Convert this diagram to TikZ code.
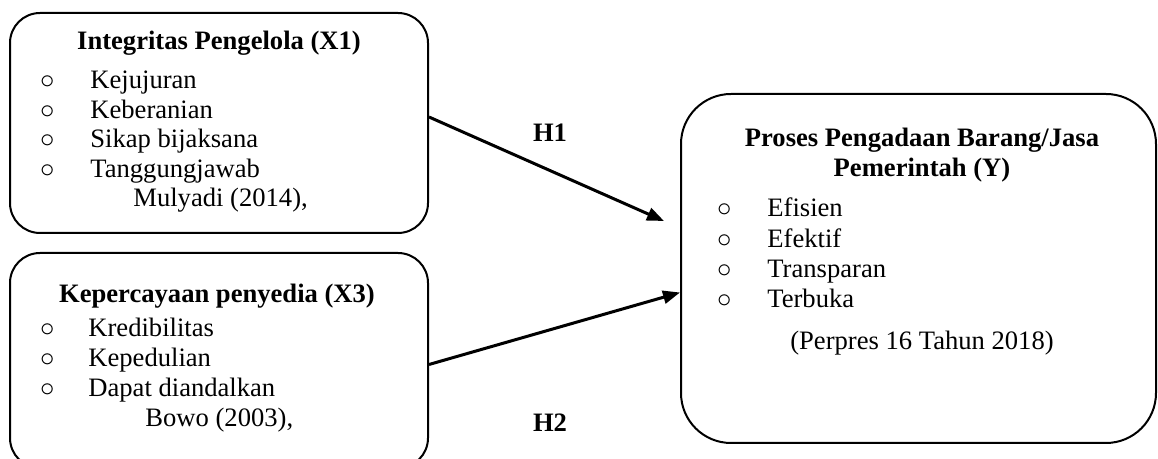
\documentclass[tikz,border=0pt]{standalone}
\usepackage{fontspec}
\setmainfont{Liberation Serif}
\usetikzlibrary{arrows.meta}

\tikzset{
  box/.style={draw, line width=1pt, rounded corners=15pt, inner sep=0pt},
  ttl/.style={anchor=base, inner sep=0pt, font=\fontsize{13.3}{14.75}\selectfont\bfseries},
  item/.style={anchor=base west, inner sep=0pt, font=\fontsize{13.3}{14.75}\selectfont},
  bul/.style={anchor=base, inner sep=0pt, font=\fontsize{13.3}{14.75}\selectfont},
  conn/.style={line width=1.5pt, -{Triangle[length=8.5pt,width=6.5pt]}},
}

\begin{document}
\begin{tikzpicture}[x=0.5pt,y=-0.5pt]
  \useasboundingbox (0,0) rectangle (1158,459);
  \clip (0,0) rectangle (1158,459);

  % kotak variabel
  \node[box, minimum width=209pt, minimum height=110pt] (x1) at (219,123) {};
  \node[box, minimum width=209pt, minimum height=107.5pt] (x3) at (219,360.5) {};
  \node[box, rounded corners=25pt, minimum width=237.5pt, minimum height=174.5pt] (y) at (918.5,268.5) {};

  % integritas pengelola
  \node[ttl] (x1t) at (219,50) {Integritas Pengelola (X1)};
  \foreach \txt [count=\i] in {Kejujuran, Keberanian, Sikap bijaksana, Tanggungjawab}
  {
    \node[bul] (x1b\i) at (48,{59.5+29.5*\i}) {$\circ$};
    \node[item] (x1i\i) at (90,{59.5+29.5*\i}) {\txt};
  }
  \node[item] (x1s) at (133,207) {Mulyadi (2014),};

  % kepercayaan penyedia
  \node[ttl] (x3t) at (217,303) {Kepercayaan penyedia (X3)};
  \foreach \txt [count=\i] in {Kredibilitas, Kepedulian, Dapat diandalkan}
  {
    \node[bul] (x3b\i) at (48,{307+30*\i}) {$\circ$};
    \node[item] (x3i\i) at (88,{307+30*\i}) {\txt};
  }
  \node[item] (x3s) at (145,427) {Bowo (2003),};

  % proses pengadaan
  \node[ttl] (yt1) at (922,147) {Proses Pengadaan Barang/Jasa};
  \node[ttl] (yt2) at (922,177) {Pemerintah (Y)};
  \foreach \txt [count=\i] in {Efisien, Efektif, Transparan, Terbuka}
  {
    \node[bul] (yb\i) at (725,{186.5+30.3*\i}) {$\circ$};
    \node[item] (yi\i) at (767,{186.5+30.3*\i}) {\txt};
  }
  \node[anchor=base, inner sep=0pt, font=\fontsize{13.3}{14.75}\selectfont] (ys) at (922,350) {(Perpres 16 Tahun 2018)};

  % hipotesis
  \coordinate (h1end) at (664,221);
  \draw[conn] ([yshift=3pt]x1.east) -- (h1end);
  \draw[conn] ([yshift=-2pt]x3.east) -- ([yshift=-12pt]y.west);
  \node[ttl] (h1) at (550,142) {H1};
  \node[ttl] (h2) at (550,432) {H2};
\end{tikzpicture}
\end{document}
